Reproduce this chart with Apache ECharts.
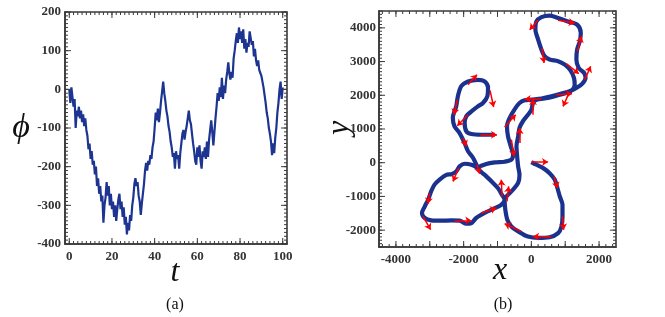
<!DOCTYPE html>
<html><head><meta charset="utf-8">
<script src="https://cdn.jsdelivr.net/npm/echarts@6/dist/echarts.min.js"></script>
<style>html,body{margin:0;padding:0;background:#fff}#c{width:665px;height:317px}#dbg{position:absolute;left:0;top:0;font:10px monospace;color:red;white-space:pre}</style>
</head><body><div id="c"></div><div id="dbg"></div>
<script>
const dbg = document.getElementById('dbg');
window.onerror = function (m, s, l) { dbg.textContent += 'ERR ' + m + ' @' + l + '\n'; };
// ---------- (a) phi(t) ----------
const tValues = [0,0.5,1,1.5,2,2.5,3,3.5,4,4.5,5,5.5,6,6.5,7,7.5,8,8.5,9,9.5,10,10.5,11,11.5,12,12.5,13,13.5,14,14.5,15,15.5,16,16.5,17,17.5,18,18.5,19,19.5,20,20.5,21,21.5,22,22.5,23,23.5,24,24.5,25,25.5,26,26.5,27,27.5,28,28.5,29,29.5,30,30.5,31,31.5,32,32.5,33,33.5,34,34.5,35,35.5,36,36.5,37,37.5,38,38.5,39,39.5,40,40.5,41,41.5,42,42.5,43,43.5,44,44.5,45,45.5,46,46.5,47,47.5,48,48.5,49,49.5,50,50.5,51,51.5,52,52.5,53,53.5,54,54.5,55,55.5,56,56.5,57,57.5,58,58.5,59,59.5,60,60.5,61,61.5,62,62.5,63,63.5,64,64.5,65,65.5,66,66.5,67,67.5,68,68.5,69,69.5,70,70.5,71,71.5,72,72.5,73,73.5,74,74.5,75,75.5,76,76.5,77,77.5,78,78.5,79,79.5,80,80.5,81,81.5,82,82.5,83,83.5,84,84.5,85,85.5,86,86.5,87,87.5,88,88.5,89,89.5,90,90.5,91,91.5,92,92.5,93,93.5,94,94.5,95,95.5,96,96.5,97,97.5,98,98.5,99,99.5,100];
const phiValues = [0,-35,5,-20,-45,-25,-100,-55,-70,-45,
-75,-55,-85,-65,-95,-75,-105,-120,-155,-140,
-180,-160,-195,-185,-220,-200,-250,-230,-270,-250,
-290,-275,-345,-300,-280,-240,-275,-250,-300,-270,
-310,-290,-330,-300,-340,-310,-285,-270,-310,-290,
-330,-305,-350,-330,-375,-345,-365,-325,-340,-300,
-280,-245,-230,-250,-240,-275,-290,-325,-295,-270,
-245,-210,-190,-210,-185,-195,-170,-180,-150,-135,
-100,-60,-80,-50,-85,-60,-30,-5,20,-10,
-30,-55,-70,-95,-110,-135,-150,-175,-165,-205,
-160,-180,-170,-205,-165,-140,-115,-105,-130,-110,
-95,-75,-55,-80,-90,-115,-140,-160,-185,-195,
-150,-175,-145,-185,-205,-160,-175,-150,-180,-135,
-175,-130,-105,-80,-110,-145,-110,-75,-45,-10,
-30,5,-20,30,-25,10,-10,25,45,70,
40,25,45,30,80,100,125,145,120,160,
130,150,120,155,105,130,95,120,110,150,
155,115,125,85,105,75,60,75,50,55,
35,20,5,-15,-35,-60,-75,-100,-115,-135,
-170,-140,-165,-125,-100,-60,-35,0,20,-25,
5];
const tTickLabels = [0,20,40,60,80,100];
const phiTickLabels = [-400,-300,-200,-100,0,100,200];

// ---------- (b) trajectory ----------
const pathX = [0,150,350,540,690,770,840,920,920,890,790,540,200,-100,-350,-590,-710,-770,-790,
 -690,-540,-390,-350,-390,-420,-440,-390,-350,-250,-100,0,50,150,
 490,790,1030,1200,1280,1260,1160,990,790,540,390,300,200,120,150,300,540,790,1080,1360,1460,1430,1350,1330,1400,1560,1600,1500,1330,1130,890,590,300,0,-200,
 -350,-490,-640,-720,-690,-610,-540,-590,-790,-1080,-1330,-1580,
 -1380,-1180,-990,-870,-790,
 -890,-1080,-1380,-1630,-1770,-1920,-2120,-2360,-2660,-2960,-3150,-3230,-3150,-3050,-2960,-2860,-2710,-2510,-2360,-2220,-2120,-1970,-1770,-1580,
 -1720,-1870,-1970,-2120,-2270,-2320,-2220,-2170,-2070,-1870,-1580,-1380,-1280,-1300,-1430,-1580,-1770,-1920,-1970,-1920,-1770,-1480,-1080];
const pathY = [20,-60,-160,-310,-500,-750,-1000,-1250,-1590,-1890,-2090,-2210,-2230,-2190,-2060,-1890,-1690,-1390,-1100,
 -950,-800,-600,-360,-110,190,490,780,1030,1230,1420,1570,1770,1870,
 1920,2000,2070,2150,2310,2510,2730,2910,3010,3060,3160,3350,3650,3950,4190,4320,4360,4290,4190,4090,3850,3600,3350,3060,2810,2660,2510,2340,2220,2120,2050,1970,1900,1870,1850,
 1770,1590,1330,1080,780,490,240,90,30,10,-40,-160,
 -360,-550,-750,-950,-1100,
 -1250,-1350,-1490,-1640,-1790,-1810,-1720,-1710,-1720,-1710,-1640,-1490,-1300,-1100,-850,-650,-500,-360,-340,-260,-110,-30,-60,-160,
 140,340,580,880,1080,1330,1670,1970,2270,2410,2460,2410,2220,1970,1770,1670,1520,1380,1180,930,850,830,830];
// orientation arrows: tail (x,y) -> head (x,y)
const arrowTailX = [0,670,916,591,-296,-867,-719,-2266,-1478,-3201,-3004,-2147,-1606,-591,-345,-788,49,296,739,1103,1576,1034,1359,788,197,315,-1872,-1221,-2187,-1872,-2019,-1507];
const arrowTailY = [20,-405,-1592,-2205,-2037,-999,-1147,-1711,-1493,-1592,-900,-158,-59,682,583,1058,1424,1889,2018,2047,2463,2937,3303,4223,4223,3402,2314,2146,1869,1424,732,831];
const arrowHeadX = [493,768,955,49,-788,-887,-670,-1773,-1034,-2975,-3054,-2315,-1527,-512,-345,-463,49,-197,1202,936,1753,1399,1478,1281,-49,374,-1606,-1113,-2285,-2187,-1921,-1015];
const arrowHeadY = [20,-752,-1988,-2186,-1810,-504,-702,-1711,-1345,-1988,-1216,-554,-326,188,1029,1424,1889,1889,2047,1671,2858,2641,3748,4144,3946,2957,2611,1652,1424,1098,485,831];
const xTickLabels = [-4000,-2000,0,2000];
const yTickLabels = [-2000,-1000,0,1000,2000,3000,4000];

// ---------- axes / frame ----------
const labelFont = { color: '#333', fontFamily: 'Liberation Serif', fontWeight: 'bold', fontSize: 13 };
const frameColor = '#3a3a3a';
const ext = [ { xmin: -2, xmax: 102, ymin: -400, ymax: 200 }, { xmin: -4500, xmax: 2500, ymin: -2500, ymax: 4500 } ];
function labelAxis(gi, min, max, labels, margin) {
  return {
    type: 'value', gridIndex: gi, min: min, max: max,
    splitLine: { show: false },
    axisLine: { show: true, onZero: false, lineStyle: { color: frameColor, width: 1.6 } },
    axisTick: { show: false },
    axisLabel: Object.assign({ show: true, customValues: labels, margin: margin, formatter: v => String(v) }, labelFont)
  };
}
function steps(a, b, s) { const r = []; for (let v = a; v <= b + 1e-9; v += s) r.push(Math.round(v * 1000) / 1000); return r; }
// tick marks: [value, dim(0=x,1=y), length px]
function tickItems(dim, minorVals, majorVals) {
  return minorVals.map(v => [v, dim, 3]).concat(majorVals.map(v => [v, dim, 6]));
}
const tickSets = [
  tickItems(0, steps(-2, 102, 2), steps(0, 100, 20)).concat(tickItems(1, steps(-400, 200, 10), steps(-400, 200, 100))),
  tickItems(0, steps(-4400, 2400, 200), steps(-4000, 2000, 1000)).concat(tickItems(1, steps(-2500, 4500, 100), steps(-2000, 4000, 1000)))
];

const phiData = tValues.map((t, i) => [t, phiValues[i]]);
const pathData = pathX.map((x, i) => [x, pathY[i]]);
const arrowData = arrowTailX.map((x, i) => ({ coords: [[x, arrowTailY[i]], [arrowHeadX[i], arrowHeadY[i]]] }));

function txt(text, x, y, size, italic, rot) {
  return {
    type: 'text', x: x, y: y, rotation: rot || 0,
    style: { text: text, fill: '#111', font: (italic ? 'italic ' : '') + size + 'px "Liberation Serif"',
      align: 'center', verticalAlign: 'middle', textAlign: 'center', textVerticalAlign: 'middle' }
  };
}
const texts = [
  txt('ϕ', 21, 128, 34, true),
  txt('t', 175, 273, 32, true),
  txt('y', 340, 128, 32, true, Math.PI / 2),
  txt('x', 500, 271, 32, true),
  txt('(a)', 175, 305, 16, false),
  txt('(b)', 503, 305, 16, false)
];

const chart = echarts.init(document.getElementById('c'), null, { renderer: 'canvas' });
chart.setOption({
  animation: false,
  backgroundColor: '#fff',
  grid: [
    { left: 65, top: 12, width: 222, height: 232, show: true, borderColor: frameColor, borderWidth: 1.6, backgroundColor: 'transparent' },
    { left: 379, top: 11, width: 237, height: 236, show: true, borderColor: frameColor, borderWidth: 1.6, backgroundColor: 'transparent' }
  ],
  xAxis: [ labelAxis(0, ext[0].xmin, ext[0].xmax, tTickLabels, 6), labelAxis(1, ext[1].xmin, ext[1].xmax, xTickLabels, 6) ],
  yAxis: [ labelAxis(0, ext[0].ymin, ext[0].ymax, phiTickLabels, 4), labelAxis(1, ext[1].ymin, ext[1].ymax, yTickLabels, 3) ],
  series: [
    { type: 'line', xAxisIndex: 0, yAxisIndex: 0, data: phiData, showSymbol: false, symbol: 'none',
      lineStyle: { color: '#1d3591', width: 2.2 } },
    { type: 'line', xAxisIndex: 1, yAxisIndex: 1, data: pathData, showSymbol: false, symbol: 'none', smooth: 0.3,
      lineStyle: { color: '#1b318e', width: 4.2 } },
    { type: 'lines', coordinateSystem: 'cartesian2d', xAxisIndex: 1, yAxisIndex: 1, data: arrowData,
      symbol: ['none', 'arrow'], symbolSize: 6, z: 5,
      lineStyle: { color: '#ff0000', width: 1.5, opacity: 1 } }
  ],
  graphic: texts
});

// tick marks on all four sides, positioned through the grids' own scales
const tickLines = [];
[0, 1].forEach(gi => {
  const e = ext[gi];
  const lb = chart.convertToPixel({ gridIndex: gi }, [e.xmin, e.ymin]);
  const rt = chart.convertToPixel({ gridIndex: gi }, [e.xmax, e.ymax]);
  const L = lb[0], B = lb[1], R = rt[0], T = rt[1];
  tickSets[gi].forEach(([v, dim, len]) => {
    const st = { stroke: frameColor, lineWidth: 1 };
    if (dim === 0) {
      const px = chart.convertToPixel({ gridIndex: gi }, [v, e.ymin])[0];
      tickLines.push({ type: 'line', silent: true, z: 100, shape: { x1: px, y1: B, x2: px, y2: B - len }, style: st });
      tickLines.push({ type: 'line', silent: true, z: 100, shape: { x1: px, y1: T, x2: px, y2: T + len }, style: st });
    } else {
      const py = chart.convertToPixel({ gridIndex: gi }, [e.xmin, v])[1];
      tickLines.push({ type: 'line', silent: true, z: 100, shape: { x1: L, y1: py, x2: L + len, y2: py }, style: st });
      tickLines.push({ type: 'line', silent: true, z: 100, shape: { x1: R, y1: py, x2: R - len, y2: py }, style: st });
    }
  });
});
chart.setOption({ graphic: texts.concat(tickLines) });
</script></body></html>
